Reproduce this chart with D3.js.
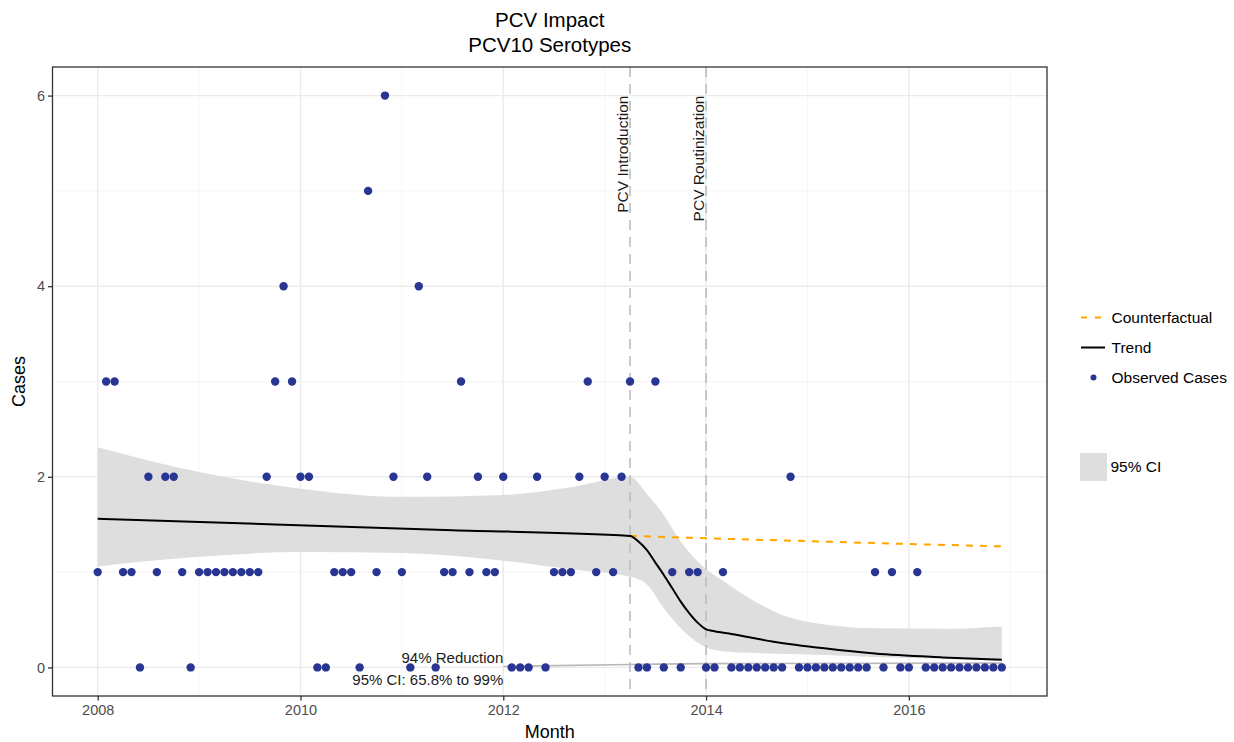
<!DOCTYPE html>
<html>
<head>
<meta charset="utf-8">
<script src="https://cdn.jsdelivr.net/npm/d3@7"></script>
<style>
  body { margin: 0; background: #fff; }
  svg { display: block; font-family: "Liberation Sans", Arial, Helvetica, sans-serif; }
</style>
</head>
<body>
<svg id="chart" width="1234" height="742"></svg>
<script>
// ---------------- DATA ----------------
const startYear = 2008;               // month index 0 = Jan 2008
// Observed monthly cases, Jan 2008 .. Dec 2016 (108 months)
const observedCases = [
  1,3,3,1,1,0,2,1,2,2,1,0,   // 2008
  1,1,1,1,1,1,1,1,2,3,4,3,   // 2009
  2,2,0,0,1,1,1,0,5,1,6,2,   // 2010
  1,0,4,2,0,1,1,3,1,2,1,1,   // 2011
  2,0,0,0,2,0,1,1,1,2,3,1,   // 2012
  2,1,2,3,0,0,3,0,1,0,1,1,   // 2013
  0,0,1,0,0,0,0,0,0,0,2,0,   // 2014
  0,0,0,0,0,0,0,0,1,0,1,0,   // 2015
  0,1,0,0,0,0,0,0,0,0,0,0    // 2016
];

// Fitted trend (month index -> cases)
const trendMonths = [0, 21, 42, 63, 64, 65, 66, 67, 68, 69, 70, 71, 72, 73, 75, 80, 86, 92, 100, 107];
const trendValues = [1.56, 1.50, 1.44, 1.38, 1.32, 1.23, 1.10, 0.97, 0.83, 0.69, 0.57, 0.47, 0.40, 0.38, 0.35, 0.27, 0.20, 0.145, 0.105, 0.08];

// 95% CI band
const ciMonths = [0, 12, 24, 36, 48, 56, 63, 65, 67, 69, 72, 74, 78, 82, 86, 92, 100, 107];
const ciUpper  = [2.31, 2.05, 1.875, 1.79, 1.81, 1.89, 2.00, 1.82, 1.60, 1.32, 1.03, 0.91, 0.68, 0.52, 0.45, 0.41, 0.405, 0.43];
const ciLower  = [1.06, 1.16, 1.21, 1.20, 1.12, 1.03, 0.95, 0.87, 0.62, 0.41, 0.21, 0.17, 0.15, 0.14, 0.13, 0.11, 0.09, 0.07];

// Counterfactual (no vaccine) projection
const cfMonths = [63, 72, 84, 96, 107];
const cfValues = [1.38, 1.355, 1.325, 1.295, 1.27];

// Reduction reference line
const redMonths = [48, 63, 72, 107];
const redValues = [0.01, 0.03, 0.04, 0.045];

// Events
const eventMonths = [63, 72];
const eventLabels = ["PCV Introduction", "PCV Routinization"];

// Axis ticks
const xTickMonths = [0, 24, 48, 72, 96];
const xTickLabels = ["2008", "2010", "2012", "2014", "2016"];
const xMinorMonths = [12, 36, 60, 84, 108];
const yTicks = [0, 2, 4, 6];
const yMinor = [1, 3, 5];

const titleLines = ["PCV Impact", "PCV10 Serotypes"];
const annotationLines = ["94% Reduction", "95% CI: 65.8% to 99%"];
const legendLabels = ["Counterfactual", "Trend", "Observed Cases", "95% CI"];

// ---------------- CHART ----------------
const svg = d3.select("#chart");
const W = 1234, H = 742;
const margin = {top: 67, right: 187, bottom: 46, left: 52.5};
const pw = W - margin.left - margin.right;
const ph = H - margin.top - margin.bottom;

const x = d3.scaleLinear().domain([-5.35, 112.35]).range([margin.left, margin.left + pw]);
const y = d3.scaleLinear().domain([-0.3, 6.3]).range([margin.top + ph, margin.top]);

const col = {
  point: "#283593", band: "#dedede", trend: "#000000", cf: "#ffa500",
  grid: "#ebebeb", gridMinor: "#f3f3f3", text: "#4d4d4d", vline: "#bdbdbd"
};

// Panel background
svg.append("rect").attr("x", margin.left).attr("y", margin.top)
  .attr("width", pw).attr("height", ph).attr("fill", "#fff");

const grid = svg.append("g");
grid.selectAll(".xmin").data(xMinorMonths.filter(m => x(m) < margin.left + pw)).join("line")
  .attr("x1", d => x(d)).attr("x2", d => x(d)).attr("y1", margin.top).attr("y2", margin.top + ph)
  .attr("stroke", col.gridMinor).attr("stroke-width", 0.8);
grid.selectAll(".ymin").data(yMinor).join("line")
  .attr("x1", margin.left).attr("x2", margin.left + pw).attr("y1", d => y(d)).attr("y2", d => y(d))
  .attr("stroke", col.gridMinor).attr("stroke-width", 0.8);
grid.selectAll(".xmaj").data(xTickMonths).join("line")
  .attr("x1", d => x(d)).attr("x2", d => x(d)).attr("y1", margin.top).attr("y2", margin.top + ph)
  .attr("stroke", col.grid).attr("stroke-width", 1.4);
grid.selectAll(".ymaj").data(yTicks).join("line")
  .attr("x1", margin.left).attr("x2", margin.left + pw).attr("y1", d => y(d)).attr("y2", d => y(d))
  .attr("stroke", col.grid).attr("stroke-width", 1.4);

// CI band
const bandData = ciMonths.map((m, i) => ({m, lo: ciLower[i], hi: ciUpper[i]}));
svg.append("path").datum(bandData)
  .attr("d", d3.area().x(d => x(d.m)).y0(d => y(d.lo)).y1(d => y(d.hi)).curve(d3.curveMonotoneX))
  .attr("fill", col.band);

// Reduction line
svg.append("path").datum(redMonths.map((m, i) => ({m, v: redValues[i]})))
  .attr("d", d3.line().x(d => x(d.m)).y(d => y(d.v)).curve(d3.curveMonotoneX))
  .attr("fill", "none").attr("stroke", "#b8b8b8").attr("stroke-width", 1.6);

// Event lines
svg.selectAll(".evline").data(eventMonths).join("line")
  .attr("x1", d => x(d)).attr("x2", d => x(d)).attr("y1", margin.top).attr("y2", margin.top + ph)
  .attr("stroke", col.vline).attr("stroke-width", 1.6).attr("stroke-dasharray", "10,7");

// Observed points
svg.selectAll(".pt").data(observedCases.map((v, i) => ({m: i, v}))).join("circle")
  .attr("cx", d => x(d.m)).attr("cy", d => y(d.v)).attr("r", 4.2).attr("fill", col.point);

// Counterfactual
svg.append("path").datum(cfMonths.map((m, i) => ({m, v: cfValues[i]})))
  .attr("d", d3.line().x(d => x(d.m)).y(d => y(d.v)))
  .attr("fill", "none").attr("stroke", col.cf).attr("stroke-width", 2).attr("stroke-dasharray", "7,7");

// Trend
svg.append("path").datum(trendMonths.map((m, i) => ({m, v: trendValues[i]})))
  .attr("d", d3.line().x(d => x(d.m)).y(d => y(d.v)).curve(d3.curveMonotoneX))
  .attr("fill", "none").attr("stroke", col.trend).attr("stroke-width", 2);

// Event labels (rotated)
svg.selectAll(".evlab").data(eventMonths).join("text")
  .attr("transform", d => `translate(${x(d) - 2.5},${y(6)}) rotate(-90)`)
  .attr("text-anchor", "end")
  .attr("font-size", 15.5).attr("fill", "#1a1a1a")
  .text((d, i) => eventLabels[i]);

// Reduction annotation
svg.selectAll(".ann").data(annotationLines).join("text")
  .attr("x", x(48)).attr("y", (d, i) => i === 0 ? y(0.1) : y(-0.13))
  .attr("dy", "0.35em").attr("text-anchor", "end")
  .attr("font-size", 15).attr("fill", "#1a1a1a")
  .text(d => d);

// Panel border
svg.append("rect").attr("x", margin.left).attr("y", margin.top)
  .attr("width", pw).attr("height", ph).attr("fill", "none")
  .attr("stroke", "#333").attr("stroke-width", 1.3);

// Axes
const xAxis = svg.append("g").attr("transform", `translate(0,${margin.top + ph})`)
  .call(d3.axisBottom(x).tickValues(xTickMonths).tickFormat((d, i) => xTickLabels[i]).tickSize(4.5).tickPadding(4));
const yAxis = svg.append("g").attr("transform", `translate(${margin.left},0)`)
  .call(d3.axisLeft(y).tickValues(yTicks).tickFormat(d3.format("d")).tickSize(4.5).tickPadding(3));
[xAxis, yAxis].forEach(a => {
  a.select(".domain").remove();
  a.selectAll(".tick line").attr("stroke", "#333").attr("stroke-width", 1.3);
  a.selectAll(".tick text").attr("fill", col.text).attr("font-size", 14.5)
    .attr("font-family", "Liberation Sans, Arial, sans-serif");
});

// Axis titles
svg.append("text").attr("x", margin.left + pw / 2).attr("y", 738).attr("text-anchor", "middle")
  .attr("font-size", 18).attr("fill", "#000").text("Month");
svg.append("text").attr("transform", `translate(25,${margin.top + ph / 2}) rotate(-90)`)
  .attr("text-anchor", "middle").attr("font-size", 18).attr("fill", "#000").text("Cases");

// Title
svg.selectAll(".title").data(titleLines).join("text")
  .attr("x", margin.left + pw / 2).attr("y", (d, i) => 27 + i * 25)
  .attr("text-anchor", "middle").attr("font-size", 20.5).attr("fill", "#000")
  .text(d => d);

// Legend
const lg = svg.append("g");
const lx = 1081, ltx = 1111.5;
lg.append("line").attr("x1", lx).attr("x2", lx + 23).attr("y1", 317.5).attr("y2", 317.5)
  .attr("stroke", col.cf).attr("stroke-width", 2).attr("stroke-dasharray", "6,8");
lg.append("line").attr("x1", lx).attr("x2", lx + 24).attr("y1", 347.5).attr("y2", 347.5)
  .attr("stroke", col.trend).attr("stroke-width", 2);
lg.append("circle").attr("cx", lx + 12.5).attr("cy", 377.5).attr("r", 3).attr("fill", col.point);
lg.append("rect").attr("x", 1080).attr("y", 453).attr("width", 27).attr("height", 28).attr("fill", col.band);
lg.selectAll(".lt").data(legendLabels).join("text")
  .attr("x", (d, i) => i === 3 ? 1110.5 : ltx)
  .attr("y", (d, i) => [317.5, 347.5, 377.5, 467][i])
  .attr("dy", "0.35em").attr("font-size", 15.5).attr("fill", "#000")
  .text(d => d);
</script>
</body>
</html>
